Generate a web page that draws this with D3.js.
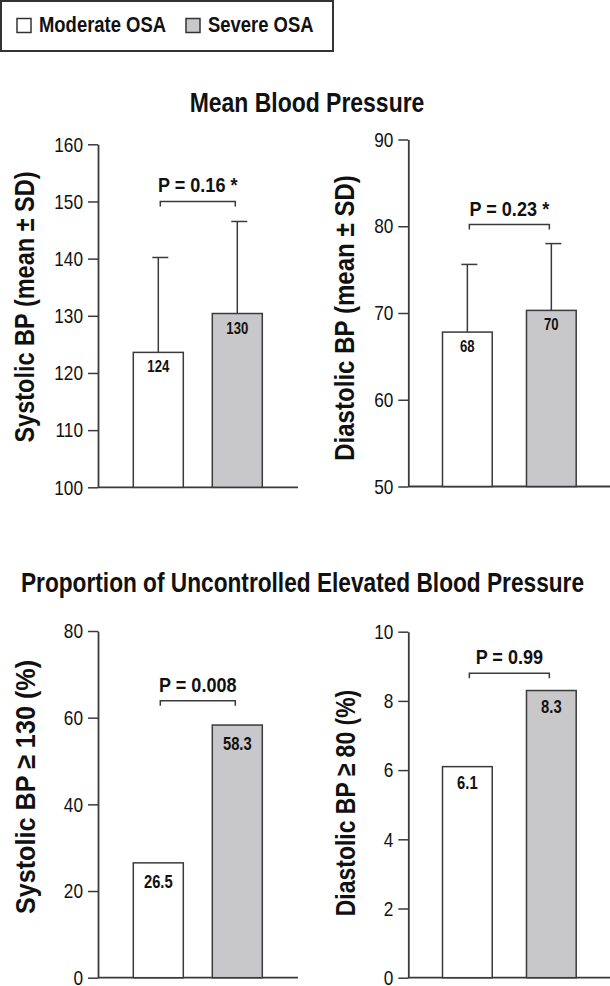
<!DOCTYPE html>
<html>
<head>
<meta charset="utf-8">
<script src="https://cdn.jsdelivr.net/npm/d3@7"></script>
<style>
  html, body { margin: 0; padding: 0; background: #fff; }
  svg { display: block; }
  text { font-family: "Liberation Sans", Arial, sans-serif; fill: #111; }
</style>
</head>
<body>
<svg id="chart" width="610" height="986"></svg>
<script>
// ---------------- DATA ----------------
const groups = ["Moderate OSA", "Severe OSA"];

const sbpMean = [123.6, 130.4];
const sbpSD = [16.6, 16.1];
const sbpLabels = ["124", "130"];

const dbpMean = [67.8, 70.3];
const dbpSD = [7.8, 7.7];
const dbpLabels = ["68", "70"];

const sbpUncontrolled = [26.5, 58.3];
const sbpUncontrolledLabels = ["26.5", "58.3"];
const dbpUncontrolled = [6.1, 8.3];
const dbpUncontrolledLabels = ["6.1", "8.3"];

const pTexts = ["P = 0.16", "P = 0.23", "P = 0.008", "P = 0.99"];
const pStars = ["*", "*", "", ""];

const sbpTicks = [100, 110, 120, 130, 140, 150, 160];
const dbpTicks = [50, 60, 70, 80, 90];
const sbpPctTicks = [0, 20, 40, 60, 80];
const dbpPctTicks = [0, 2, 4, 6, 8, 10];

const sectionTitles = ["Mean Blood Pressure", "Proportion of Uncontrolled Elevated Blood Pressure"];
const yTitles = ["Systolic BP (mean \u00B1 SD)", "Diastolic BP (mean \u00B1 SD)", "Systolic BP \u2265 130 (%)", "Diastolic BP \u2265 80 (%)"];

// ---------------- LAYOUT ----------------
const svg = d3.select("#chart");
const fills = ["#ffffff", "#c8c8ca"];
const stroke = "#3a3a3a";
const K = 0.82; // horizontal condensation (narrow face)

// condensed text helper: positioned via transform, horizontally scaled
function ctext(parent, x, y, str, o) {
  o = o || {};
  const t = parent.append("text")
    .attr("transform", `translate(${x},${y})${o.rotate ? ` rotate(${o.rotate})` : ""} scale(${o.k || K},1)`)
    .attr("text-anchor", o.anchor || "start")
    .attr("font-size", o.size || 20)
    .attr("font-weight", o.bold ? "bold" : "normal")
    .text(str);
  return t;
}

const charts = [
  { values: sbpMean, sd: sbpSD, labels: sbpLabels, ticks: sbpTicks, domain: [100, 160],
    axisX: 98, axisEnd: 298, band: [133.3, 262.3], pad: 0.367, yRange: [487.3, 144.3],
    bracket: 150, p: 0, yTitle: 0, titleX: 34, titleY: 307, titleK: 0.84, labelDy: 20, labelSize: 16 },
  { values: dbpMean, sd: dbpSD, labels: dbpLabels, ticks: dbpTicks, domain: [50, 90],
    axisX: 408.3, axisEnd: 610, band: [442.5, 576.2], pad: 0.408, yRange: [486.5, 139.5],
    bracket: 80.2, p: 1, yTitle: 1, titleX: 354, titleY: 318, titleK: 0.86, labelDy: 20, labelSize: 16 },
  { values: sbpUncontrolled, sd: null, labels: sbpUncontrolledLabels, ticks: sbpPctTicks, domain: [0, 80],
    axisX: 98, axisEnd: 298, band: [133.3, 262.3], pad: 0.367, yRange: [977.7, 631],
    bracket: 63.9, p: 2, yTitle: 2, titleX: 35, titleY: 787, titleK: 0.9, labelDy: 25, labelSize: 18 },
  { values: dbpUncontrolled, sd: null, labels: dbpUncontrolledLabels, ticks: dbpPctTicks, domain: [0, 10],
    axisX: 408.3, axisEnd: 610, band: [442.5, 576.2], pad: 0.408, yRange: [977.7, 631.7],
    bracket: 8.8, p: 3, yTitle: 3, titleX: 355, titleY: 803, titleK: 0.82, labelDy: 22, labelSize: 18 }
];

// Legend
const legend = svg.append("g");
legend.append("rect").attr("x", 1).attr("y", 1).attr("width", 332).attr("height", 50)
  .attr("fill", "#fff").attr("stroke", "#333").attr("stroke-width", 2);
const legendItems = [{ x: 17, tx: 39 }, { x: 186, tx: 208 }];
groups.forEach((g, i) => {
  legend.append("rect").attr("x", legendItems[i].x).attr("y", 18.5).attr("width", 14).attr("height", 14)
    .attr("fill", fills[i]).attr("stroke", "#333").attr("stroke-width", 1.5);
  ctext(legend, legendItems[i].tx, 32, g, { size: 22.5, bold: true });
});

// Section titles
ctext(svg, 307, 111.7, sectionTitles[0], { size: 28, bold: true, anchor: "middle" });
ctext(svg, 302.5, 592.3, sectionTitles[1], { size: 28, bold: true, anchor: "middle", k: 0.81 });

charts.forEach(c => {
  const g = svg.append("g");
  const x = d3.scaleBand().domain(groups).range(c.band).paddingInner(c.pad).paddingOuter(0);
  const y = d3.scaleLinear().domain(c.domain).range(c.yRange);

  // y axis
  const ax = g.append("g").attr("transform", `translate(${c.axisX},0)`)
    .call(d3.axisLeft(y).tickValues(c.ticks).tickSize(10).tickSizeOuter(0).tickPadding(5).tickFormat(d3.format("d")));
  ax.select(".domain").attr("stroke", stroke).attr("stroke-width", 1.8);
  ax.selectAll(".tick line").attr("stroke", stroke).attr("stroke-width", 1.5);
  ax.selectAll(".tick text").attr("font-size", 21).attr("fill", "#1a1a1a")
    .attr("font-family", '"Liberation Sans", Arial, sans-serif')
    .attr("x", -15 / K).attr("transform", `scale(${K},1)`);

  // x baseline
  g.append("line").attr("x1", c.axisX).attr("x2", c.axisEnd)
    .attr("y1", y(c.domain[0])).attr("y2", y(c.domain[0]))
    .attr("stroke", stroke).attr("stroke-width", 1.8);

  // error bars (behind bars)
  if (c.sd) {
    groups.forEach((gr, i) => {
      const cx = x(gr) + x.bandwidth() / 2;
      const top = y(c.values[i] + c.sd[i]);
      g.append("line").attr("x1", cx).attr("x2", cx).attr("y1", y(c.values[i])).attr("y2", top)
        .attr("stroke", stroke).attr("stroke-width", 1.5);
      g.append("line").attr("x1", cx - 6).attr("x2", cx + 10).attr("y1", top).attr("y2", top)
        .attr("stroke", stroke).attr("stroke-width", 1.5);
    });
  }

  // bars
  g.selectAll("rect.bar").data(c.values).join("rect").attr("class", "bar")
    .attr("x", (d, i) => x(groups[i]))
    .attr("width", x.bandwidth())
    .attr("y", d => y(d))
    .attr("height", d => y(c.domain[0]) - y(d))
    .attr("fill", (d, i) => fills[i])
    .attr("stroke", stroke).attr("stroke-width", 1.5);

  // bar labels
  c.values.forEach((d, i) => {
    ctext(g, x(groups[i]) + x.bandwidth() / 2, y(d) + c.labelDy, c.labels[i],
      { size: c.labelSize, bold: true, anchor: "middle" });
  });

  // significance bracket
  const bx1 = x(groups[0]) + x.bandwidth() / 2 + 2;
  const bx2 = x(groups[1]) + x.bandwidth() / 2 - 2;
  const by = y(c.bracket);
  g.append("path").attr("d", `M${bx1},${by + 5}V${by}H${bx2}V${by + 5}`)
    .attr("fill", "none").attr("stroke", stroke).attr("stroke-width", 1.5);
  const pt = ctext(g, (bx1 + bx2) / 2, by - 9, pTexts[c.p], { size: 21, bold: true, anchor: "middle", k: 0.86 });
  if (pStars[c.p]) pt.append("tspan").attr("dx", 6).text(pStars[c.p]);

  // y title
  ctext(g, c.titleX, c.titleY, yTitles[c.yTitle], { size: 28, bold: true, anchor: "middle", rotate: -90, k: c.titleK });
});
</script>
</body>
</html>
